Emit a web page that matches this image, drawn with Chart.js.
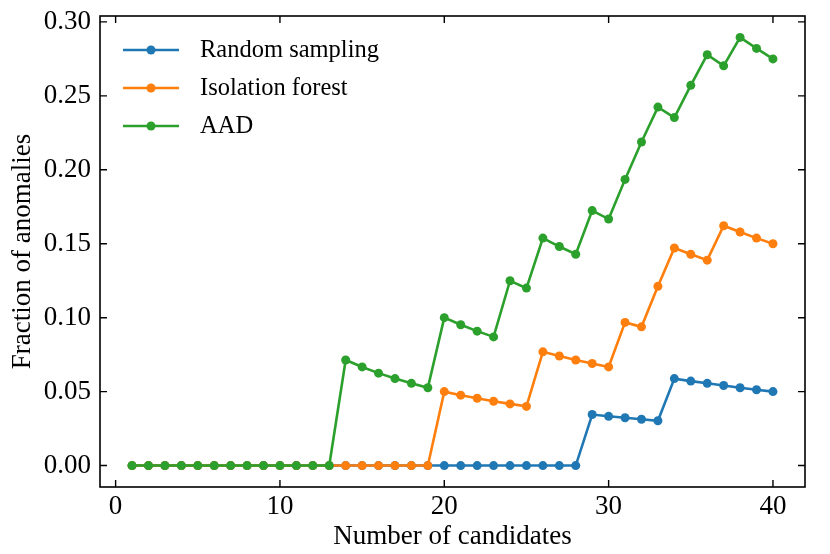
<!DOCTYPE html>
<html>
<head>
<meta charset="utf-8">
<script src="https://cdn.jsdelivr.net/npm/chart.js@4/dist/chart.umd.min.js"></script>
<style>
html,body{margin:0;padding:0;background:#fff;}
#wrap{width:830px;height:554px;}
</style>
</head>
<body>
<div id="wrap"><canvas id="c" width="830" height="554"></canvas></div>
<script>
const candidates = [1,2,3,4,5,6,7,8,9,10,11,12,13,14,15,16,17,18,19,20,21,22,23,24,25,26,27,28,29,30,31,32,33,34,35,36,37,38,39,40];
const randomSampling = [0,0,0,0,0,0,0,0,0,0,0,0,0,0,0,0,0,0,0,0,0,0,0,0,0,0,0,0,
  0.0345,0.0333,0.0323,0.0313,0.0303,0.0588,0.0571,0.0556,0.0541,0.0526,0.0513,0.0500];
const isolationForest = [0,0,0,0,0,0,0,0,0,0,0,0,0,0,0,0,0,0,0,
  0.0500,0.0476,0.0455,0.0435,0.0417,0.0400,0.0769,0.0741,0.0714,0.0690,0.0667,
  0.0968,0.0938,0.1212,0.1471,0.1429,0.1389,0.1622,0.1579,0.1538,0.1500];
const aad = [0,0,0,0,0,0,0,0,0,0,0,0,0,
  0.0714,0.0667,0.0625,0.0588,0.0556,0.0526,0.1000,0.0952,0.0909,0.0870,0.1250,0.1200,
  0.1538,0.1481,0.1429,0.1724,0.1667,0.1935,0.2188,0.2424,0.2353,0.2571,0.2778,0.2703,
  0.2895,0.2821,0.2750];
const seriesNames = ['Random sampling','Isolation forest','AAD'];
const seriesColors = ['#1f77b4','#ff7f0e','#2ca02c'];
const xTicks = [0,10,20,30,40];
const yTicks = [0,0.05,0.10,0.15,0.20,0.25,0.30];
const xLabel = 'Number of candidates';
const yLabel = 'Fraction of anomalies';

const FONT = '"Liberation Serif", "Times New Roman", serif';
const FS = 27;
const LFS = 24.5;

function mk(vals){ return candidates.map((x,i)=>({x:x,y:vals[i]})); }
const allSeries = [randomSampling, isolationForest, aad];

const datasets = allSeries.map((v,i)=>({
  label: seriesNames[i],
  data: mk(v),
  borderColor: seriesColors[i],
  backgroundColor: seriesColors[i],
  borderWidth: 2.6,
  pointRadius: 4.5,
  pointBorderWidth: 0,
  pointHoverRadius: 4.5,
  tension: 0,
  order: 2 - i
}));

const framePlugin = {
  id: 'frame',
  afterDraw(chart){
    const ctx = chart.ctx, a = chart.chartArea;
    const xs = chart.scales.x, ys = chart.scales.y;
    ctx.save();
    ctx.strokeStyle = '#000';
    ctx.lineWidth = 1.6;
    ctx.strokeRect(a.left, a.top, a.right - a.left, a.bottom - a.top);
    const L = 7;
    ctx.lineWidth = 1.4;
    ctx.beginPath();
    xTicks.forEach(t=>{
      const px = xs.getPixelForValue(t);
      ctx.moveTo(px, a.bottom); ctx.lineTo(px, a.bottom - L);
      ctx.moveTo(px, a.top); ctx.lineTo(px, a.top + L);
    });
    yTicks.forEach(t=>{
      const py = ys.getPixelForValue(t);
      ctx.moveTo(a.left, py); ctx.lineTo(a.left + L, py);
      ctx.moveTo(a.right, py); ctx.lineTo(a.right - L, py);
    });
    ctx.stroke();
    // legend
    ctx.font = LFS + 'px ' + FONT;
    ctx.textBaseline = 'middle';
    ctx.textAlign = 'left';
    const lx0 = a.left + 23, lx1 = a.left + 79, tx = a.left + 100;
    const ly = [a.top + 34, a.top + 72, a.top + 110];
    chart.data.datasets.forEach((ds,i)=>{
      ctx.strokeStyle = ds.borderColor;
      ctx.lineWidth = 2.6;
      ctx.beginPath(); ctx.moveTo(lx0, ly[i]); ctx.lineTo(lx1, ly[i]); ctx.stroke();
      ctx.fillStyle = ds.borderColor;
      ctx.beginPath(); ctx.arc((lx0+lx1)/2, ly[i], 4.5, 0, Math.PI*2); ctx.fill();
      ctx.fillStyle = '#000';
      ctx.fillText(ds.label, tx, ly[i] + 1);
    });
    ctx.restore();
  }
};

function noPad(s){ s.paddingTop = 0; s.paddingBottom = 0; s.paddingLeft = 0; s.paddingRight = 0; }

new Chart(document.getElementById('c'), {
  type: 'line',
  data: { datasets },
  options: {
    responsive: false,
    animation: false,
    devicePixelRatio: 1,
    layout: { padding: { top: 16, right: 25, left: 0, bottom: 0 } },
    plugins: { legend: { display: false }, tooltip: { enabled: false } },
    scales: {
      x: {
        type: 'linear',
        min: -0.95, max: 41.95,
        afterBuildTicks(s){ s.ticks = xTicks.map(v=>({value:v})); },
        afterFit(s){ s.height = 67; noPad(s); },
        grid: { display: false, drawTicks: false },
        border: { display: false },
        ticks: { color: '#000', font: { family: FONT, size: FS }, padding: 4, maxRotation: 0,
          callback: v => String(v) },
        title: { display: true, text: xLabel, color: '#000', font: { family: FONT, size: FS }, padding: { top: 0, bottom: 1 } }
      },
      y: {
        type: 'linear',
        min: -0.0145, max: 0.304,
        afterBuildTicks(s){ s.ticks = yTicks.map(v=>({value:v})); },
        afterFit(s){ s.width = 100; noPad(s); },
        grid: { display: false, drawTicks: false },
        border: { display: false },
        ticks: { color: '#000', font: { family: FONT, size: FS }, padding: 9,
          callback: v => Number(v).toFixed(2) },
        title: { display: true, text: yLabel, color: '#000', font: { family: FONT, size: FS }, padding: { top: 7, bottom: 0 } }
      }
    }
  },
  plugins: [framePlugin]
});
</script>
</body>
</html>
